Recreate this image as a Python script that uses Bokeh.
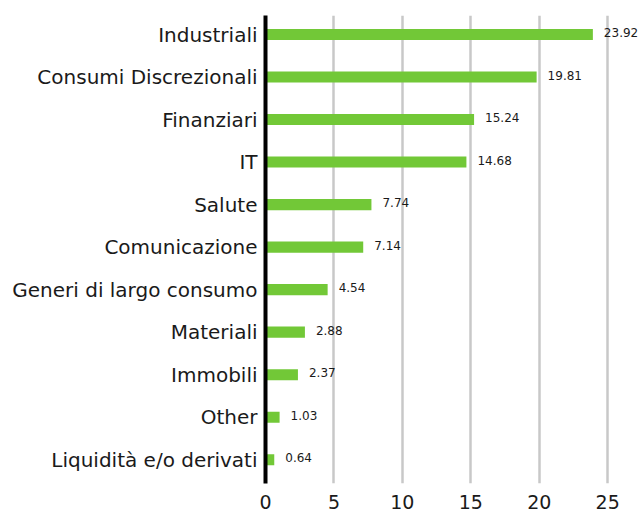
from bokeh.plotting import figure
from bokeh.models import ColumnDataSource, FixedTicker, Range1d
from bokeh.core.properties import value
from bokeh.embed import file_html
from bokeh.resources import INLINE

categories = ["Industriali", "Consumi Discrezionali", "Finanziari", "IT", "Salute",
              "Comunicazione", "Generi di largo consumo", "Materiali", "Immobili",
              "Other", "Liquidità e/o derivati"]
values = [23.92, 19.81, 15.24, 14.68, 7.74, 7.14, 4.54, 2.88, 2.37, 1.03, 0.64]
labels = ["23.92", "19.81", "15.24", "14.68", "7.74", "7.14", "4.54", "2.88", "2.37", "1.03", "0.64"]
x_ticks = [0, 5, 10, 15, 20, 25]

n = len(categories)
ypos = [n - 1 - i for i in range(n)]
src = ColumnDataSource(dict(y=ypos, v=values, lab=labels, cat=categories))

FONT = "DejaVu Sans"

p = figure(width=640, height=511, output_backend="svg", toolbar_location=None,
           x_range=Range1d(0, 27.4), y_range=Range1d(-0.56, 10.448),
           min_border_left=265, min_border_top=15, min_border_right=0, min_border_bottom=26)
p.outline_line_color = None
p.background_fill_color = "white"

p.hbar(y="y", right="v", left=0, height=0.26, source=src, color="#72C837", line_color=None)
p.text(x="v", y="y", text="lab", source=src, x_offset=11, y_offset=-2,
       text_font=value(FONT), text_font_size="12px", text_align="left",
       text_baseline="middle", text_color="#1a1a1a")

# y axis
p.yaxis.ticker = FixedTicker(ticks=ypos)
p.yaxis.major_label_overrides = {y: c for y, c in zip(ypos, categories)}
p.yaxis.axis_line_color = "black"
p.yaxis.axis_line_width = 4
p.yaxis.major_tick_line_color = None
p.yaxis.major_tick_out = 0
p.yaxis.major_tick_in = 0
p.yaxis.minor_tick_line_color = None
p.yaxis.major_label_standoff = 8
p.yaxis.major_label_text_font = FONT
p.yaxis.major_label_text_font_size = "20px"
p.yaxis.major_label_text_color = "#1a1a1a"

# x axis
p.xaxis.ticker = FixedTicker(ticks=x_ticks)
p.xaxis.axis_line_color = None
p.xaxis.major_tick_line_color = None
p.xaxis.major_tick_out = 0
p.xaxis.major_tick_in = 0
p.xaxis.minor_tick_line_color = None
p.xaxis.major_label_standoff = 11
p.xaxis.major_label_text_font = FONT
p.xaxis.major_label_text_font_size = "19px"
p.xaxis.major_label_text_color = "#1a1a1a"

p.ygrid.grid_line_color = None
p.xgrid.grid_line_color = "#c8c8c8"
p.xgrid.grid_line_width = 2.5

open("out.html", "w").write(file_html(p, INLINE))
